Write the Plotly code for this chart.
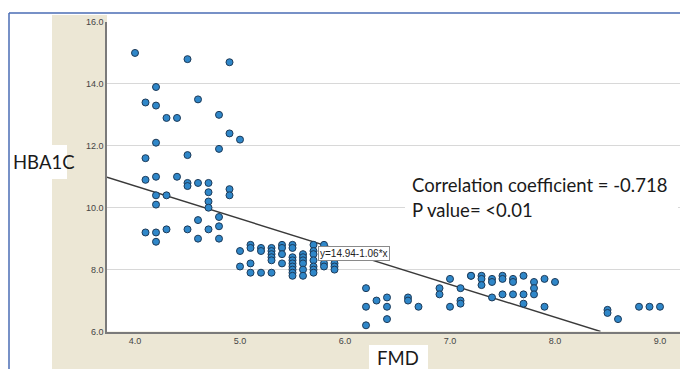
import plotly.graph_objects as go

# ---- data ----
fmd = [4.0, 4.5, 4.9, 4.2, 4.1, 4.2, 4.6, 4.3, 4.4, 4.8, 4.9, 5.0, 4.2, 4.8, 4.1, 4.5,
       4.1, 4.2, 4.4, 4.5, 4.5, 4.6, 4.7, 4.7, 4.7, 4.7, 4.9, 4.9, 4.2, 4.3, 4.2, 4.8,
       4.6, 4.8, 4.1, 4.2, 4.3, 4.5, 4.7, 4.2, 4.6, 4.8,
       5.0, 5.0,
       5.1, 5.1, 5.1, 5.1,
       5.2, 5.2, 5.2,
       5.3, 5.3, 5.3, 5.3, 5.3, 5.3,
       5.4, 5.4, 5.4, 5.4,
       5.5, 5.5, 5.5, 5.5, 5.5, 5.5, 5.5, 5.5, 5.5,
       5.6, 5.6, 5.6, 5.6, 5.6, 5.6,
       5.7, 5.7, 5.7, 5.7, 5.7, 5.7, 5.7,
       5.8, 5.8, 5.8, 5.8, 5.8,
       5.9, 5.9, 5.9,
       6.2, 6.2, 6.2, 6.3, 6.4, 6.4, 6.4, 6.6, 6.6, 6.7, 6.9, 6.9, 7.0, 7.0,
       7.1, 7.1, 7.1, 7.2, 7.2, 7.3, 7.3, 7.3, 7.4, 7.4, 7.4, 7.5, 7.5, 7.5,
       7.6, 7.6, 7.6, 7.7, 7.7, 7.7, 7.8, 7.8, 7.8, 7.9, 7.9, 8.0,
       8.5, 8.5, 8.6, 8.8, 8.9, 9.0]
hba1c = [15.0, 14.8, 14.7, 13.9, 13.4, 13.3, 13.5, 12.9, 12.9, 13.0, 12.4, 12.2, 12.1, 11.9, 11.6, 11.7,
         10.9, 11.0, 11.0, 10.8, 10.7, 10.8, 10.8, 10.5, 10.2, 10.0, 10.6, 10.4, 10.4, 10.4, 10.1, 9.7,
         9.6, 9.4, 9.2, 9.2, 9.3, 9.3, 9.3, 8.9, 9.0, 9.0,
         8.6, 8.1,
         8.8, 8.7, 8.2, 7.9,
         8.7, 8.6, 7.9,
         8.7, 8.6, 8.5, 8.4, 8.3, 7.9,
         8.8, 8.7, 8.5, 8.2,
         8.8, 8.7, 8.4, 8.3, 8.2, 8.1, 8.0, 7.9, 7.8,
         8.5, 8.4, 8.3, 8.2, 8.0, 7.8,
         8.8, 8.6, 8.5, 8.3, 8.1, 8.0, 7.9,
         8.8, 8.6, 8.5, 8.2, 8.1,
         8.2, 8.1, 8.0,
         7.4, 6.8, 6.2, 7.0, 7.1, 6.8, 6.4, 7.1, 7.0, 6.8, 7.4, 7.2, 7.7, 6.8,
         7.4, 7.0, 6.9, 7.8, 7.8, 7.8, 7.7, 7.5, 7.7, 7.6, 7.1, 7.8, 7.7, 7.2,
         7.7, 7.6, 7.2, 7.8, 7.2, 6.9, 7.6, 7.4, 7.2, 7.7, 6.8, 7.6,
         6.7, 6.6, 6.4, 6.8, 6.8, 6.8]

intercept = 14.94
slope = -1.06
x_ticks = [4.0, 5.0, 6.0, 7.0, 8.0, 9.0]
y_ticks = [6.0, 8.0, 10.0, 12.0, 14.0, 16.0]
x_range = [3.7333, 9.2667]
y_range = [6.0, 16.0]

W, H = 688, 369
OFF = 8  # page body margin offset of the plot div


def px(x):
    return (x - OFF) / W


def py(y):
    return 1 - (y - OFF) / H


# regression line clipped to plot box
x0 = x_range[0]
x1 = (y_range[0] - intercept) / slope
line_x = [x0, x1]
line_y = [intercept + slope * v for v in line_x]

fig = go.Figure()
fig.add_trace(go.Scatter(x=line_x, y=line_y, mode="lines",
                         line=dict(color="#3a3a3a", width=1.4),
                         hoverinfo="skip", showlegend=False))
fig.add_trace(go.Scatter(x=fmd, y=hba1c, mode="markers",
                         marker=dict(size=7, color="#2f87c9",
                                     line=dict(color="#1d3a58", width=1)),
                         showlegend=False))

beige = "#ece7d5"
shapes = [
    dict(type="rect", xref="paper", yref="paper", x0=px(52), x1=px(107), y0=0, y1=py(15),
         fillcolor=beige, line=dict(width=0), layer="below"),
    dict(type="rect", xref="paper", yref="paper", x0=px(52), x1=1, y0=0, y1=py(331.5),
         fillcolor=beige, line=dict(width=0), layer="below"),
    dict(type="rect", xref="paper", yref="paper", x0=px(9), x1=px(67), y0=py(179), y1=py(145),
         fillcolor="white", line=dict(width=0), layer="above"),
    dict(type="rect", xref="paper", yref="paper", x0=px(369), x1=px(428), y0=0, y1=py(345),
         fillcolor="white", line=dict(width=0), layer="above"),
    dict(type="rect", xref="paper", yref="paper", x0=px(405), x1=px(678), y0=py(225), y1=py(170),
         fillcolor="white", line=dict(width=0), layer="above"),
    dict(type="line", xref="paper", yref="paper", x0=px(9), x1=px(9), y0=0, y1=py(13),
         line=dict(color="#4a6db5", width=1.5)),
    dict(type="line", xref="paper", yref="paper", x0=px(9), x1=1, y0=py(13), y1=py(13),
         line=dict(color="#4a6db5", width=1.5)),
]

txt_font = dict(family="Lato, Liberation Sans, sans-serif", size=18.5, color="#1a1a1a")
annotations = [
    dict(text="HBA1C", xref="paper", yref="paper", x=px(11), y=py(162), xanchor="left",
         yanchor="middle", showarrow=False, font=txt_font),
    dict(text="FMD", xref="paper", yref="paper", x=px(398), y=py(370), xanchor="center",
         yanchor="bottom", showarrow=False, font=txt_font, borderpad=0),
    dict(text="Correlation coefficient = -0.718", xref="paper", yref="paper", x=px(410),
         y=py(185), xanchor="left", yanchor="middle", showarrow=False, font=txt_font),
    dict(text="P value= <0.01", xref="paper", yref="paper", x=px(410),
         y=py(210), xanchor="left", yanchor="middle", showarrow=False, font=txt_font),
    dict(text="y=14.94-1.06*x", xref="paper", yref="paper", x=px(354.5), y=py(253.5),
         xanchor="center", yanchor="middle", showarrow=False,
         font=dict(family="Liberation Sans, Arial, sans-serif", size=10, color="#222"),
         bgcolor="white", bordercolor="#8a8a8a", borderwidth=1, borderpad=1),
]

fig.update_layout(
    width=W, height=H,
    margin=dict(l=0, r=0, t=0, b=0, autoexpand=False),
    paper_bgcolor="white", plot_bgcolor="white",
    shapes=shapes, annotations=annotations,
    xaxis=dict(domain=[px(107), px(688)], range=x_range, tickvals=x_ticks, automargin=False,
               ticktext=[f"{v:.1f}" for v in x_ticks], showgrid=False, zeroline=False,
               showline=True, linecolor="#7a7a7a", linewidth=1.5, ticks="",
               tickfont=dict(family="Liberation Sans, Arial, sans-serif", size=9, color="#444")),
    yaxis=dict(domain=[py(331.5), py(22)], range=y_range, tickvals=y_ticks, automargin=False,
               ticktext=[f"{v:.1f}" for v in y_ticks], showgrid=True, gridcolor="#d8d8d8",
               gridwidth=1, zeroline=False, showline=True, linecolor="#7a7a7a", linewidth=1.5,
               ticks="", tickfont=dict(family="Liberation Sans, Arial, sans-serif", size=9, color="#444")),
)

fig.write_html("out.html")
